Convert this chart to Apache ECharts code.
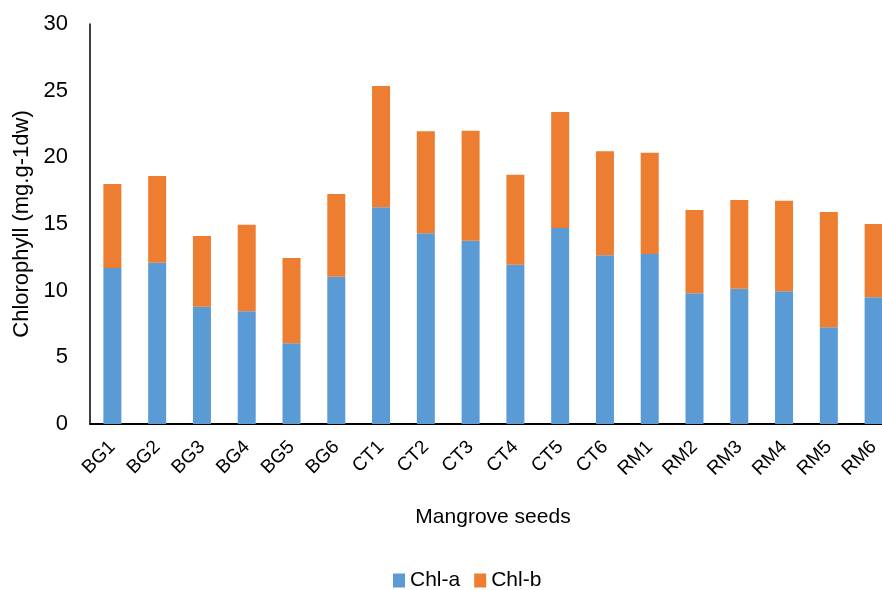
<html>
<head>
<meta charset="utf-8">
<title>Chlorophyll</title>
<script src="https://cdn.jsdelivr.net/npm/echarts@6/dist/echarts.min.js"></script>
<style>
body { margin: 0; background: #fff; }
#chart { width: 882px; height: 590px; }
</style>
</head>
<body>
<div id="chart"></div>
<script>
// data
var seeds = ["BG1","BG2","BG3","BG4","BG5","BG6","CT1","CT2","CT3","CT4","CT5","CT6","RM1","RM2","RM3","RM4","RM5","RM6"];
var chlA = [11.7, 12.1, 8.8, 8.45, 6.05, 11.05, 16.25, 14.3, 13.75, 11.95, 14.7, 12.65, 12.75, 9.8, 10.15, 9.95, 7.25, 9.5];
var chlB = [6.3, 6.5, 5.3, 6.5, 6.4, 6.2, 9.1, 7.65, 8.25, 6.75, 8.7, 7.8, 7.6, 6.25, 6.65, 6.8, 8.65, 5.5];
var yTicks = [0, 5, 10, 15, 20, 25, 30];

var font = "Liberation Sans";
var myChart = echarts.init(document.getElementById('chart'));

var option = {
	animation: false,
	textStyle: { fontFamily: font, color: '#000' },
	grid: { left: 90, top: 24, width: 806, height: 400, outerBoundsMode: 'none' },
	legend: {
		top: 565,
		left: 388,
		itemWidth: 12,
		itemHeight: 14,
		itemGap: 14,
		icon: 'rect',
		textStyle: { fontFamily: font, fontSize: 21, color: '#000' },
		data: ['Chl-a', 'Chl-b']
	},
	xAxis: {
		type: 'category',
		data: seeds,
		name: 'Mangrove seeds',
		nameLocation: 'middle',
		nameGap: 83,
		nameTextStyle: { fontFamily: font, fontSize: 21, color: '#000' },
		axisLine: { lineStyle: { color: '#000', width: 2 } },
		axisTick: { show: false },
		axisLabel: { rotate: 45, fontSize: 19, color: '#000', margin: 20, interval: 0 }
	},
	yAxis: {
		type: 'value',
		min: yTicks[0],
		max: yTicks[yTicks.length - 1],
		interval: 5,
		name: 'Chlorophyll (mg.g-1dw)',
		nameLocation: 'middle',
		nameGap: 56,
		nameTextStyle: { fontFamily: font, fontSize: 22, color: '#000' },
		axisLine: { show: true, lineStyle: { color: '#000', width: 1.5 } },
		axisTick: { show: false },
		splitLine: { show: false },
		axisLabel: { fontSize: 22, color: '#000', margin: 22 }
	},
	series: [
		{
			name: 'Chl-a',
			type: 'bar',
			stack: 'chl',
			barWidth: 18,
			itemStyle: { color: '#5B9BD5' },
			data: chlA
		},
		{
			name: 'Chl-b',
			type: 'bar',
			stack: 'chl',
			barWidth: 18,
			itemStyle: { color: '#ED7D31' },
			data: chlB
		}
	]
};

myChart.setOption(option);
</script>
</body>
</html>
